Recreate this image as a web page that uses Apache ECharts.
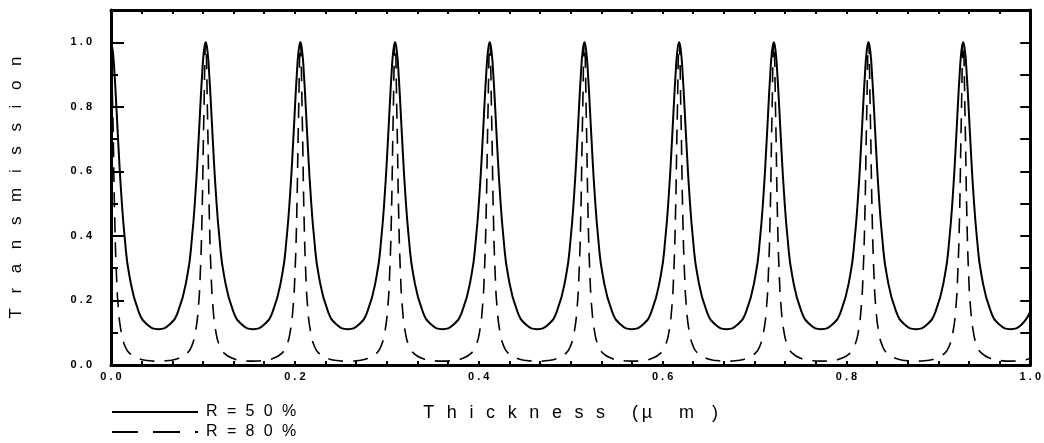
<!DOCTYPE html>
<html>
<head>
<meta charset="utf-8">
<script src="https://cdn.jsdelivr.net/npm/echarts@6/dist/echarts.min.js"></script>
<style>
html,body{margin:0;padding:0;background:#fff;}
#chart{width:1044px;height:443px;}
</style>
</head>
<body>
<div id="chart"></div>
<script>
const thicknessUm = [
  0, 0.002, 0.004, 0.006, 0.008, 0.011, 0.015, 0.02, 0.03, 0.04, 0.0515,
  0.063, 0.073, 0.083, 0.088, 0.092, 0.095, 0.097, 0.099, 0.101, 0.103, 0.105, 0.107, 0.109, 0.111, 0.114, 0.118, 0.123, 0.133, 0.143, 0.1545,
  0.166, 0.176, 0.186, 0.191, 0.195, 0.198, 0.200, 0.202, 0.204, 0.206, 0.208, 0.210, 0.212, 0.214, 0.217, 0.221, 0.226, 0.236, 0.246, 0.2575,
  0.269, 0.279, 0.289, 0.294, 0.298, 0.301, 0.303, 0.305, 0.307, 0.309, 0.311, 0.313, 0.315, 0.317, 0.320, 0.324, 0.329, 0.339, 0.349, 0.3605,
  0.372, 0.382, 0.392, 0.397, 0.401, 0.404, 0.406, 0.408, 0.410, 0.412, 0.414, 0.416, 0.418, 0.420, 0.423, 0.427, 0.432, 0.442, 0.452, 0.4635,
  0.475, 0.485, 0.495, 0.500, 0.504, 0.507, 0.509, 0.511, 0.513, 0.515, 0.517, 0.519, 0.521, 0.523, 0.526, 0.530, 0.535, 0.545, 0.555, 0.5665,
  0.578, 0.588, 0.598, 0.603, 0.607, 0.610, 0.612, 0.614, 0.616, 0.618, 0.620, 0.622, 0.624, 0.626, 0.629, 0.633, 0.638, 0.648, 0.658, 0.6695,
  0.681, 0.691, 0.701, 0.706, 0.710, 0.713, 0.715, 0.717, 0.719, 0.721, 0.723, 0.725, 0.727, 0.729, 0.732, 0.736, 0.741, 0.751, 0.761, 0.7725,
  0.784, 0.794, 0.804, 0.809, 0.813, 0.816, 0.818, 0.820, 0.822, 0.824, 0.826, 0.828, 0.830, 0.832, 0.835, 0.839, 0.844, 0.854, 0.864, 0.8755,
  0.887, 0.897, 0.907, 0.912, 0.916, 0.919, 0.921, 0.923, 0.925, 0.927, 0.929, 0.931, 0.933, 0.935, 0.938, 0.942, 0.947, 0.957, 0.967, 0.9785,
  0.990, 1.000
];

// Transmission, R = 50 % (solid line)
const transR50 = [
  1.0, 0.971, 0.894, 0.792, 0.683, 0.537, 0.392, 0.277, 0.166, 0.124, 0.111,
  0.124, 0.166, 0.277, 0.392, 0.537, 0.683, 0.792, 0.894, 0.971, 1.0, 0.971, 0.894, 0.792, 0.683, 0.537, 0.392, 0.277, 0.166, 0.124, 0.111,
  0.124, 0.166, 0.277, 0.392, 0.537, 0.683, 0.792, 0.894, 0.971, 1.0, 0.971, 0.894, 0.792, 0.683, 0.537, 0.392, 0.277, 0.166, 0.124, 0.111,
  0.124, 0.166, 0.277, 0.392, 0.537, 0.683, 0.792, 0.894, 0.971, 1.0, 0.971, 0.894, 0.792, 0.683, 0.537, 0.392, 0.277, 0.166, 0.124, 0.111,
  0.124, 0.166, 0.277, 0.392, 0.537, 0.683, 0.792, 0.894, 0.971, 1.0, 0.971, 0.894, 0.792, 0.683, 0.537, 0.392, 0.277, 0.166, 0.124, 0.111,
  0.124, 0.166, 0.277, 0.392, 0.537, 0.683, 0.792, 0.894, 0.971, 1.0, 0.971, 0.894, 0.792, 0.683, 0.537, 0.392, 0.277, 0.166, 0.124, 0.111,
  0.124, 0.166, 0.277, 0.392, 0.537, 0.683, 0.792, 0.894, 0.971, 1.0, 0.971, 0.894, 0.792, 0.683, 0.537, 0.392, 0.277, 0.166, 0.124, 0.111,
  0.124, 0.166, 0.277, 0.392, 0.537, 0.683, 0.792, 0.894, 0.971, 1.0, 0.971, 0.894, 0.792, 0.683, 0.537, 0.392, 0.277, 0.166, 0.124, 0.111,
  0.124, 0.166, 0.277, 0.392, 0.537, 0.683, 0.792, 0.894, 0.971, 1.0, 0.971, 0.894, 0.792, 0.683, 0.537, 0.392, 0.277, 0.166, 0.124, 0.111,
  0.124, 0.166, 0.277, 0.392, 0.537, 0.683, 0.792, 0.894, 0.971, 1.0, 0.971, 0.894, 0.792, 0.683, 0.537, 0.392, 0.277, 0.166, 0.124, 0.111,
  0.124, 0.166
];

// Transmission, R = 80 % (dashed line)
const transR80 = [
  1.0, 0.772, 0.459, 0.275, 0.177, 0.104, 0.060, 0.037, 0.020, 0.014, 0.012,
  0.014, 0.020, 0.037, 0.060, 0.104, 0.177, 0.275, 0.459, 0.772, 1.0, 0.772, 0.459, 0.275, 0.177, 0.104, 0.060, 0.037, 0.020, 0.014, 0.012,
  0.014, 0.020, 0.037, 0.060, 0.104, 0.177, 0.275, 0.459, 0.772, 1.0, 0.772, 0.459, 0.275, 0.177, 0.104, 0.060, 0.037, 0.020, 0.014, 0.012,
  0.014, 0.020, 0.037, 0.060, 0.104, 0.177, 0.275, 0.459, 0.772, 1.0, 0.772, 0.459, 0.275, 0.177, 0.104, 0.060, 0.037, 0.020, 0.014, 0.012,
  0.014, 0.020, 0.037, 0.060, 0.104, 0.177, 0.275, 0.459, 0.772, 1.0, 0.772, 0.459, 0.275, 0.177, 0.104, 0.060, 0.037, 0.020, 0.014, 0.012,
  0.014, 0.020, 0.037, 0.060, 0.104, 0.177, 0.275, 0.459, 0.772, 1.0, 0.772, 0.459, 0.275, 0.177, 0.104, 0.060, 0.037, 0.020, 0.014, 0.012,
  0.014, 0.020, 0.037, 0.060, 0.104, 0.177, 0.275, 0.459, 0.772, 1.0, 0.772, 0.459, 0.275, 0.177, 0.104, 0.060, 0.037, 0.020, 0.014, 0.012,
  0.014, 0.020, 0.037, 0.060, 0.104, 0.177, 0.275, 0.459, 0.772, 1.0, 0.772, 0.459, 0.275, 0.177, 0.104, 0.060, 0.037, 0.020, 0.014, 0.012,
  0.014, 0.020, 0.037, 0.060, 0.104, 0.177, 0.275, 0.459, 0.772, 1.0, 0.772, 0.459, 0.275, 0.177, 0.104, 0.060, 0.037, 0.020, 0.014, 0.012,
  0.014, 0.020, 0.037, 0.060, 0.104, 0.177, 0.275, 0.459, 0.772, 1.0, 0.772, 0.459, 0.275, 0.177, 0.104, 0.060, 0.037, 0.020, 0.014, 0.012,
  0.014, 0.020
];

const seriesNames = ['R = 50 %', 'R = 80 %'];
const xAxisTitle = 'Thickness (µ m)';
const yAxisTitle = 'Transmission';

function pairs(xs, ys) { return xs.map((x, i) => [x, ys[i]]); }
// typewriter-style letter spacing, as on the original plot
function spreadWord(w, sep) { return w.split('').join(sep); }
function tickText(v) { return spreadWord(v.toFixed(1), ' '); }
function spreadTitle(t, sep, wordSep) { return t.split(' ').map(w => spreadWord(w, sep)).join(wordSep); }
function xTitleText(t) {
  const parts = t.split(' ');               // ['Thickness', '(µ', 'm)']
  return spreadWord(parts[0], '\u2002\u2009') + '\u2003\u2002' +
         spreadWord(parts[1], '\u2009') + '\u2003\u2002' +
         spreadWord(parts[2], '\u2003');
}

const FONT = '"Liberation Sans", Arial, sans-serif';
const chart = echarts.init(document.getElementById('chart'), null, { renderer: 'canvas' });

const frameLine = { show: true, onZero: false, lineStyle: { color: '#000', width: 3 } };
const tickStyle = { width: 2, color: '#000' };

chart.setOption({
  animation: false,
  backgroundColor: '#fff',
  grid: { left: 108, right: 10, top: 10, bottom: 78, containLabel: false },
  legend: {
    orient: 'vertical', left: 112, top: 404, padding: 0, itemWidth: 86, itemHeight: 2, itemGap: 4,
    textStyle: { fontFamily: FONT, fontSize: 16, lineHeight: 16, color: '#000', padding: [0, 0, 0, 3] },
    formatter: function (n) { return spreadTitle(n, '\u2002\u200a', '\u2002\u200a'); },
    data: [
      { name: seriesNames[0], icon: 'path://M0,0h86v2h-86z' },
      { name: seriesNames[1], icon: 'path://M0,0h26v2h-26z M41,0h27v2h-27z M83,0h3v2h-3z' }
    ]
  },
  xAxis: [{
    type: 'value', min: 0, max: 1, interval: 0.2, position: 'bottom',
    axisLine: frameLine,
    axisTick: { show: true, inside: true, length: 4, lineStyle: tickStyle },
    minorTick: { show: true, splitNumber: 6, length: 4, lineStyle: tickStyle },
    splitLine: { show: false },
    axisLabel: { formatter: tickText, fontFamily: FONT, fontWeight: 'bold', fontSize: 11, color: '#000', margin: 6 },
    name: xTitleText(xAxisTitle), nameLocation: 'middle', nameGap: 39,
    nameTextStyle: { fontFamily: FONT, fontSize: 18, color: '#000' }
  }, {
    type: 'value', min: 0, max: 1, interval: 0.2, position: 'top',
    axisLine: frameLine,
    axisTick: { show: true, inside: true, length: 4, lineStyle: tickStyle },
    minorTick: { show: true, splitNumber: 6, length: 4, lineStyle: tickStyle },
    splitLine: { show: false }, axisLabel: { show: false }
  }],
  yAxis: [{
    type: 'value', min: 0, max: 1.1, interval: 0.2, position: 'left',
    axisLine: frameLine,
    axisTick: { show: true, inside: true, length: 13, lineStyle: tickStyle },
    minorTick: { show: true, splitNumber: 2, length: 7, lineStyle: tickStyle },
    splitLine: { show: false },
    axisLabel: {
      formatter: function (v) { return v > 1.05 ? '' : tickText(v); },
      fontFamily: FONT, fontWeight: 'bold', fontSize: 11, color: '#000', margin: 19
    },
    name: spreadTitle(yAxisTitle, '\u2002 \u200a', '  '), nameLocation: 'middle', nameGap: 86, nameRotate: 90,
    nameTextStyle: { fontFamily: FONT, fontSize: 17, color: '#000' }
  }, {
    type: 'value', min: 0, max: 1.1, interval: 0.1, position: 'right',
    axisLine: frameLine,
    axisTick: { show: true, inside: true, length: 10, lineStyle: tickStyle },
    splitLine: { show: false }, axisLabel: { show: false }
  }],
  series: [{
    name: seriesNames[0], type: 'line', xAxisIndex: 0, yAxisIndex: 0,
    data: pairs(thicknessUm, transR50),
    symbol: 'none', smooth: 0.5,
    lineStyle: { color: '#000', width: 2, type: 'solid' },
    itemStyle: { color: '#000' }
  }, {
    name: seriesNames[1], type: 'line', xAxisIndex: 0, yAxisIndex: 0,
    data: pairs(thicknessUm, transR80),
    symbol: 'none', smooth: 0.5,
    lineStyle: { color: '#000', width: 1.6, type: [15, 10] },
    itemStyle: { color: '#000' }
  }]
});
</script>
</body>
</html>
